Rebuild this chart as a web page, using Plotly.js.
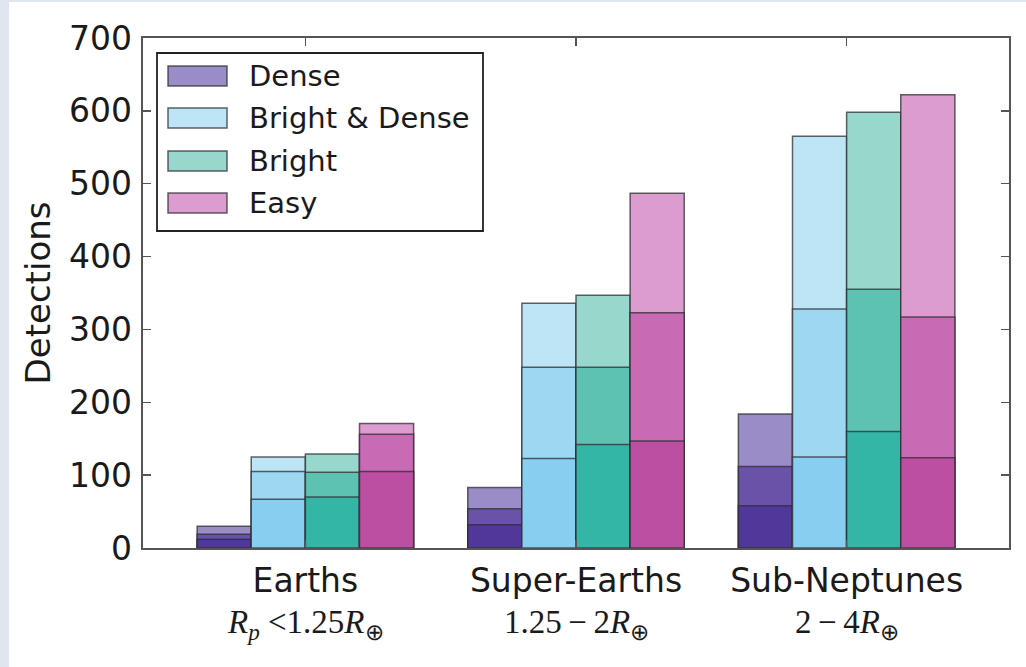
<!DOCTYPE html>
<html>
<head>
<meta charset="utf-8">
<script src="https://cdn.plot.ly/plotly-3.0.1.min.js"></script>
<style>
  html, body { margin: 0; padding: 0; background: #dfe6ef; }
  #chart { position: absolute; left: 9px; top: 2px; width: 1017px; height: 665px; background: #ffffff; }
</style>
</head>
<body>
<div id="chart"></div>
<script>
// ---------- data ----------
const categories = ['Earths', 'Super-Earths', 'Sub-Neptunes'];
const subLabels = [
  '<i>R</i><sub><i>p</i></sub> &lt;1.25<i>R</i><sub>⊕</sub>',
  '1.25\u2009−\u20092<i>R</i><sub>⊕</sub>',
  '2\u2009−\u20094<i>R</i><sub>⊕</sub>'
];
const seriesNames = ['Dense', 'Bright & Dense', 'Bright', 'Easy'];
const yTicks = [0, 100, 200, 300, 400, 500, 600, 700];

// cumulative levels (top / middle / bottom) for each series, per category
const denseTop = [30, 83, 184];
const denseMid = [19, 54, 112];
const denseLow = [12, 32, 58];

const brightDenseTop = [125, 336, 565];
const brightDenseMid = [105, 248, 328];
const brightDenseLow = [67, 123, 125];

const brightTop = [129, 347, 598];
const brightMid = [104, 248, 355];
const brightLow = [70, 142, 160];

const easyTop = [171, 487, 622];
const easyMid = [156, 323, 317];
const easyLow = [105, 147, 124];

// ---------- styling ----------
const colors = {
  'Dense':          ['#9a8cc6', '#6a52a8', '#50379a'],
  'Bright & Dense': ['#bde5f6', '#9dd8f3', '#87cef0'],
  'Bright':         ['#98d7cc', '#5cc3b3', '#33b6a5'],
  'Easy':           ['#dd9ccf', '#c96bb4', '#bd4fa3']
};
const levels = {
  'Dense':          [denseTop, denseMid, denseLow],
  'Bright & Dense': [brightDenseTop, brightDenseMid, brightDenseLow],
  'Bright':         [brightTop, brightMid, brightLow],
  'Easy':           [easyTop, easyMid, easyLow]
};

const xPos = categories.map((c, i) => i);
const barW = 0.2;
const edge = 'rgba(45,45,50,0.75)';

const traces = [];
seriesNames.forEach((name, si) => {
  levels[name].forEach((vals, li) => {
    traces.push({
      type: 'bar',
      x: xPos,
      y: vals,
      width: barW,
      offset: -0.4 + si * barW,
      name: name,
      showlegend: false,
      hoverinfo: 'y+name',
      marker: { color: colors[name][li], line: { color: edge, width: 1.5 } }
    });
  });
});

// ---------- layout ----------
const M = { l: 134, r: 17, t: 36, b: 119 };   // relative to the 1017x665 div
const W = 1017, H = 665;
const pw = W - M.l - M.r, ph = H - M.t - M.b;
// page-pixel -> paper (page has div offset 9,2)
const px = x => (x - 9 - M.l) / pw;
const py = y => 1 - (y - 2 - M.t) / ph;

const shapes = [];
const annotations = [];
// legend box
shapes.push({ type: 'rect', xref: 'paper', yref: 'paper',
  x0: px(157), x1: px(483), y0: py(231), y1: py(53),
  line: { color: '#222', width: 1.8 }, fillcolor: '#ffffff', layer: 'above' });
const rowC = [76, 118, 161, 203];
seriesNames.forEach((name, i) => {
  shapes.push({ type: 'rect', xref: 'paper', yref: 'paper',
    x0: px(168), x1: px(227), y0: py(rowC[i] + 10), y1: py(rowC[i] - 10),
    line: { color: edge, width: 1.5 }, fillcolor: colors[name][0], layer: 'above' });
  annotations.push({ xref: 'paper', yref: 'paper', x: px(247), y: py(rowC[i]),
    xanchor: 'left', yanchor: 'middle', showarrow: false, text: name.replace('&', '&amp;'),
    font: { family: 'DejaVu Sans', size: 29, color: '#1a1a1a' } });
});
// second line of category labels (math)
categories.forEach((c, i) => {
  annotations.push({ xref: 'x', yref: 'paper', x: xPos[i], y: py(624),
    xanchor: 'center', yanchor: 'middle', showarrow: false, text: subLabels[i],
    font: { family: 'Liberation Serif', size: 33, color: '#1a1a1a' } });
});

const layout = {
  width: W, height: H,
  margin: M,
  paper_bgcolor: '#ffffff',
  plot_bgcolor: '#ffffff',
  barmode: 'overlay',
  showlegend: false,
  font: { family: 'DejaVu Sans', color: '#1a1a1a' },
  xaxis: {
    range: [-0.6, 2.6],
    tickmode: 'array', tickvals: xPos, ticktext: categories,
    tickfont: { size: 33, color: '#1a1a1a' },
    ticks: 'inside', ticklen: 8, tickwidth: 1.5, tickcolor: '#555',
    showline: true, linecolor: '#555', linewidth: 2.4, mirror: 'ticks',
    showgrid: false, zeroline: false,
    ticklabelstandoff: 2
  },
  yaxis: {
    range: [0, 700],
    tickmode: 'array', tickvals: yTicks,
    tickfont: { size: 33, color: '#1a1a1a' },
    ticks: 'inside', ticklen: 8, tickwidth: 1.5, tickcolor: '#555',
    showline: true, linecolor: '#555', linewidth: 2.4, mirror: 'ticks',
    showgrid: false, zeroline: false,
    ticklabelstandoff: 2,
    title: { text: 'Detections', font: { size: 34, color: '#1a1a1a' }, standoff: 8 }
  },
  shapes: shapes,
  annotations: annotations
};

Plotly.newPlot('chart', traces, layout, { displayModeBar: false, staticPlot: true });
</script>
</body>
</html>
